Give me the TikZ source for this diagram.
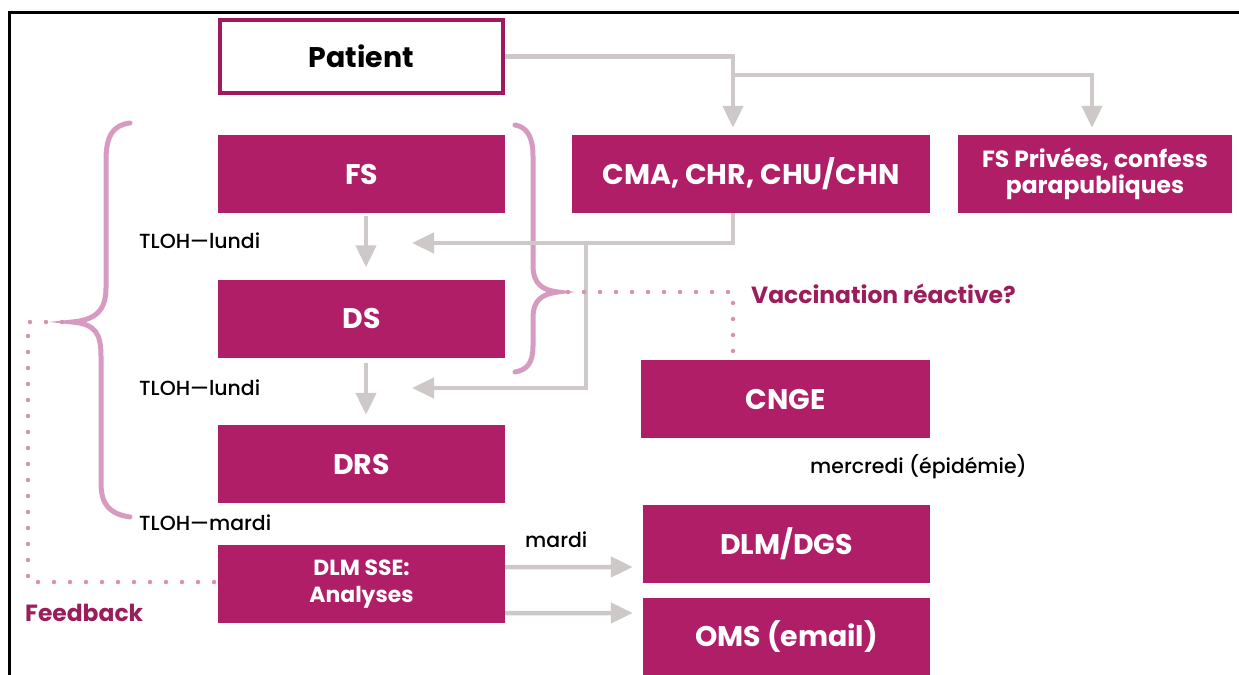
\documentclass[tikz,border=0pt]{standalone}
\usepackage{fontspec}
\setmainfont{Poppins}
\newfontfamily\labfont{Poppins}[UprightFont=* Medium]
\usetikzlibrary{arrows.meta}
\definecolor{mag}{HTML}{B11E68}
\definecolor{magdark}{HTML}{A0195F}
\definecolor{arrgray}{HTML}{CFC8C8}
\definecolor{bracepink}{HTML}{D79AC1}
\definecolor{dotpink}{HTML}{D692B4}
\definecolor{labmag}{HTML}{9C1D5C}
\tikzset{
  box/.style={draw=none, fill=mag, text=white, font=\bfseries\fontsize{28.5}{31}\selectfont,
    minimum width=287bp, minimum height=78bp, inner sep=0pt, align=center},
  smallbox/.style={box, font=\bfseries\fontsize{22}{27}\selectfont},
  pbox/.style={box, draw=magdark, line width=4bp, fill=white, text=black,
    minimum width=283bp, minimum height=73bp},
  arr/.style={draw=arrgray, line width=4.5bp, -{Triangle[width=20bp,length=22bp]}},
  brace/.style={draw=bracepink, line width=5bp, line cap=round},
  dots/.style={draw=dotpink, line width=4.5bp, line cap=round, dash pattern=on 0pt off 16bp},
  lbl/.style={anchor=west, inner sep=0pt, font=\labfont\fontsize{20.5}{24}\selectfont, text=black},
  blbl/.style={anchor=west, inner sep=0pt, font=\bfseries\fontsize{23.5}{27}\selectfont, text=labmag}
}
\begin{document}
\begin{tikzpicture}[x=1bp,y=-1bp]
\useasboundingbox (0,0) rectangle (1239,675);
\fill[white] (0,0) rectangle (1239,675);
% frame
\draw[line width=3bp] (9,675) -- (9,13) -- (1239,13);

% boxes
\node[pbox] (patient) at (361.5,56.5) {Patient};
\node[box] (fs) at (361.5,174) {FS};
\node[box] (ds) at (361.5,318.5) {DS};
\node[box] (drs) at (361.5,464) {DRS};
\node[smallbox] (sse) at (361.5,584) {DLM SSE:\\Analyses};
\node[box, minimum width=358bp] (cma) at (751,174) {CMA, CHR, CHU/CHN};
\node[smallbox, minimum width=274bp, font=\bfseries\fontsize{23.5}{26}\selectfont] (fsp) at (1095,174) {FS Privées, confess\\parapubliques};
\node[box, minimum width=289bp] (cnge) at (785.5,399) {CNGE};
\node[box] (dgs) at (786.5,544) {DLM/DGS};
\node[box] (oms) at (786.5,637) {OMS (email)};

% coordinates
\coordinate (b1) at (733,75);
\coordinate (t1) at (412,243);
\coordinate (j2) at (586,243);
\coordinate (t2) at (412,388);
\coordinate (lbt) at (72,322);
\coordinate (rbt) at (558,292);
\coordinate (fb) at (28,322);
\coordinate (vq) at (733,292);

% braces
\draw[brace] (130,123) .. controls (113,125) and (106,136) .. (106,160) -- (106,288)
  .. controls (106,311) and (95,320) .. (lbt)
  .. controls (95,324) and (101,333) .. (101,356) -- (101,483)
  .. controls (101,505) and (110,514) .. (130,517);
\draw[brace] (515,125) .. controls (527,127) and (533,137) .. (533,156) -- (533,265)
  .. controls (533,284) and (542,290) .. (rbt)
  .. controls (542,294) and (533,300) .. (533,318) -- (533,346)
  .. controls (533,363) and (527,370) .. (515,372);

% gray connectors
\draw[arr, shorten >=7bp] (patient.east) -| ([xshift=-18bp]cma.north);
\draw[arr, shorten >=7bp] (b1) -| ([xshift=-3bp]fsp.north);
\draw[arr] ([xshift=-18bp]cma.south) |- (t1);
\draw[arr] (j2) |- (t2);
\draw[arr, shorten <=3bp, shorten >=12bp] ([xshift=4.5bp]fs.south) -- ([xshift=4.5bp]ds.north);
\draw[arr, shorten <=5bp, shorten >=10bp] ([xshift=4.5bp]ds.south) -- ([xshift=4.5bp]drs.north);
\draw[arr, shorten >=10bp] ([yshift=17bp]sse.east) -- ([yshift=-23bp]dgs.west);
\draw[arr, shorten >=10bp] ([yshift=-29bp]sse.east) -- ([yshift=24bp]oms.west);

% dotted lines
\draw[dots] ([xshift=-10bp]lbt) -- (fb) |- ([yshift=2bp]sse.west);
\draw[dots] ([xshift=10bp]rbt) -- (vq) -- ([xshift=-52.5bp]cnge.north);

% labels
\node[lbl] (l1) at (139,241) {TLOH—lundi};
\node[lbl] (l2) at (139,388) {TLOH—lundi};
\node[lbl] (l3) at (139,523) {TLOH—mardi};
\node[lbl] (l4) at (525,540) {mardi};
\node[lbl] (l5) at (810,467) {mercredi (épidémie)};
\node[blbl] (vac) at (751,294) {Vaccination réactive?};
\node[blbl] (feed) at (25,613) {Feedback};
\end{tikzpicture}
\end{document}
